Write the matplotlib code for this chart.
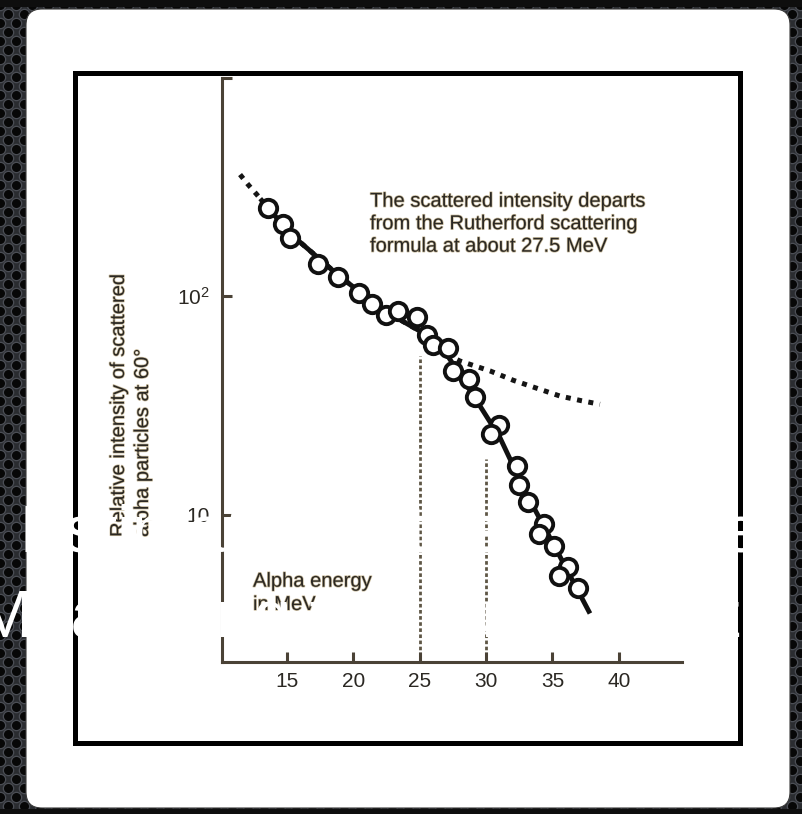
import numpy as np
import matplotlib
matplotlib.use("Agg")
import matplotlib.pyplot as plt
from matplotlib.patches import FancyBboxPatch, Rectangle
from matplotlib.ticker import NullLocator, FixedLocator, FixedFormatter
import matplotlib.patheffects as pe

plt.rcParams['font.family'] = ['Liberation Sans', 'DejaVu Sans']
plt.rcParams['mathtext.fontset'] = 'custom'
plt.rcParams['mathtext.rm'] = 'Liberation Sans'
plt.rcParams['mathtext.it'] = 'Liberation Sans:italic'

# ---------------- data ----------------
energy_measured = [13.61, 14.74, 15.24, 17.37, 18.88, 20.46, 21.39, 22.45, 23.40,
                   24.83, 25.58, 26.03, 27.16, 27.54, 28.74, 29.17, 30.98, 30.35,
                   32.36, 32.51, 33.19, 34.37, 34.01, 35.12, 36.20, 35.52, 36.91]
intensity_measured = [253, 214, 185, 141, 123, 104, 92.2, 82.4, 85.5,
                      80.1, 66.2, 60.1, 57.7, 45.5, 41.7, 34.4, 25.7, 23.4,
                      16.7, 13.6, 11.4, 9.07, 8.17, 7.14, 5.74, 5.21, 4.61]

energy_fit = [13.0, 15.24, 19.0, 22.39, 25.03, 27.04, 29.30, 31.05, 33.06, 35.32, 37.83]
intensity_fit = [280, 194, 123, 85.5, 69.2, 54.2, 33.2, 22.5, 12.4, 6.86, 3.52]

energy_rutherford = [11.48, 12.10, 12.73, 15.24, 19.0, 22.39, 25.03, 27.04, 28.04,
                     30.30, 32.06, 33.82, 35.57, 37.21, 38.58]
intensity_rutherford = [361, 324, 293, 194, 123, 85.5, 69.2, 54.2, 50.5,
                        45.5, 41.2, 37.9, 34.9, 33.2, 32.0]

marker_energies = [25, 30]
marker_tops = [53.2, 18.0]

x_ticks = [15, 20, 25, 30, 35, 40]
y_ticks = [10, 100, 1000]
y_tick_labels = ['10', r'$10^2$', '']

ylabel_lines = ['Relative intensity of scattered', 'alpha particles at 60\u00b0']
note_lines = ['The scattered intensity departs',
              'from the Rutherford scattering',
              'formula at about 27.5 MeV']
xlabel_lines = ['Alpha energy', 'in MeV']
overlay_lines = ['Estimates of the diameter', 'Measuring the nuclear size']

# ---------------- figure ----------------
W, H = 802, 814
fig = plt.figure(figsize=(W / 100, H / 100), dpi=100)

def fx(px):
    return px / W

def fy(py):
    return 1 - py / H

bg = fig.add_axes([0, 0, 1, 1])
bg.set_xlim(0, W)
bg.set_ylim(H, 0)
bg.axis('off')
bg.add_patch(Rectangle((0, 0), W, H, facecolor='#2a2c30', edgecolor='none', zorder=0))
rows = np.arange(-4, H + 12, 9)
for i, yy in enumerate(rows):
    xs = np.arange(-8 + (8 if i % 2 else 0), W + 12, 16).astype(float)
    bg.scatter(xs, np.full_like(xs, yy), s=55, c='#070707',
               edgecolors='#4b4e55', linewidths=0.9, zorder=1)
bg.add_patch(Rectangle((0, 0), W, 7, facecolor='#0e0e0e', edgecolor='none', zorder=2))
bg.add_patch(Rectangle((0, 809), W, 6, facecolor='#0e0e0e', edgecolor='none', zorder=2))
bg.add_patch(FancyBboxPatch((26, 9), 764, 799, boxstyle='round,pad=0,rounding_size=16',
                            facecolor='white', edgecolor='#3a3a3a', linewidth=0.8, zorder=3))
bg.add_patch(Rectangle((74.5, 72.5), 665, 670, facecolor='white', edgecolor='black',
                       linewidth=3.6, zorder=4))

# ---------------- chart ----------------
ax = fig.add_axes([fx(222), fy(662), 460 / W, 584 / H])
ax.set_facecolor('none')
ax.set_yscale('log')
ax.set_xlim(10.12, 44.76)
ax.set_ylim(2.11, 1000)
axis_col = '#4a4236'
text_col = '#2b2823'
for s in ['top', 'right']:
    ax.spines[s].set_visible(False)
for s in ['left', 'bottom']:
    ax.spines[s].set_color(axis_col)
    ax.spines[s].set_linewidth(2.2)
    ax.spines[s].set_zorder(2.5)

ax.xaxis.set_major_locator(FixedLocator(x_ticks))
ax.yaxis.set_major_locator(FixedLocator(y_ticks))
ax.yaxis.set_major_formatter(FixedFormatter(y_tick_labels))
ax.yaxis.set_minor_locator(NullLocator())
ax.xaxis.set_minor_locator(NullLocator())
ax.tick_params(axis='both', direction='in', length=7.5, width=2.2, color=axis_col,
               labelsize=15, labelcolor=text_col)
ax.tick_params(axis='x', pad=7)
ax.tick_params(axis='y', pad=9)

for e, top in zip(marker_energies, marker_tops):
    ax.plot([e, e], [2.11, top], color='#5e5645', linewidth=2.0,
            linestyle=(0, (1.3, 0.9)), zorder=1)

ax.plot(energy_rutherford, intensity_rutherford, color='#151515', linewidth=3.6,
        linestyle=(0, (1.0, 1.3)), zorder=3.8)
ax.plot(energy_fit, intensity_fit, color='#111111', linewidth=3.5,
        solid_capstyle='butt', zorder=4)
ax.plot(energy_measured, intensity_measured, linestyle='none', marker='o',
        markersize=12.5, markerfacecolor='white', markeredgecolor='#111111',
        markeredgewidth=2.8, zorder=5)

halo = [pe.withStroke(linewidth=1.0, foreground='#c9bb9c')]
tkw = dict(transform=fig.transFigure, color=text_col, fontsize=14.5, clip_on=False,
           zorder=3, path_effects=halo)
ax.text(fx(118.5), fy(537), ylabel_lines[0], rotation=90, ha='center', va='bottom', **tkw)
ax.text(fx(142.5), fy(537), ylabel_lines[1], rotation=90, ha='center', va='bottom', **tkw)
for i, line in enumerate(note_lines):
    ax.text(fx(370), fy(206.7 + 22.5 * i), line, ha='left', va='baseline', **tkw)
for i, line in enumerate(xlabel_lines):
    ax.text(fx(253), fy(586.7 + 23.3 * i), line, ha='left', va='baseline', **tkw)

# white slide title overlay (as in the original, partly over the card edge)
ax.text(fx(20), fy(552), overlay_lines[0], ha='left', va='baseline',
        transform=fig.transFigure, color='white', fontsize=48.4,
        clip_on=False, zorder=3.5)
ax.text(fx(-23), fy(637), overlay_lines[1], ha='left', va='baseline',
        transform=fig.transFigure, color='white', fontsize=48.4,
        clip_on=False, zorder=3.5)

fig.savefig('out.png', dpi=100)
